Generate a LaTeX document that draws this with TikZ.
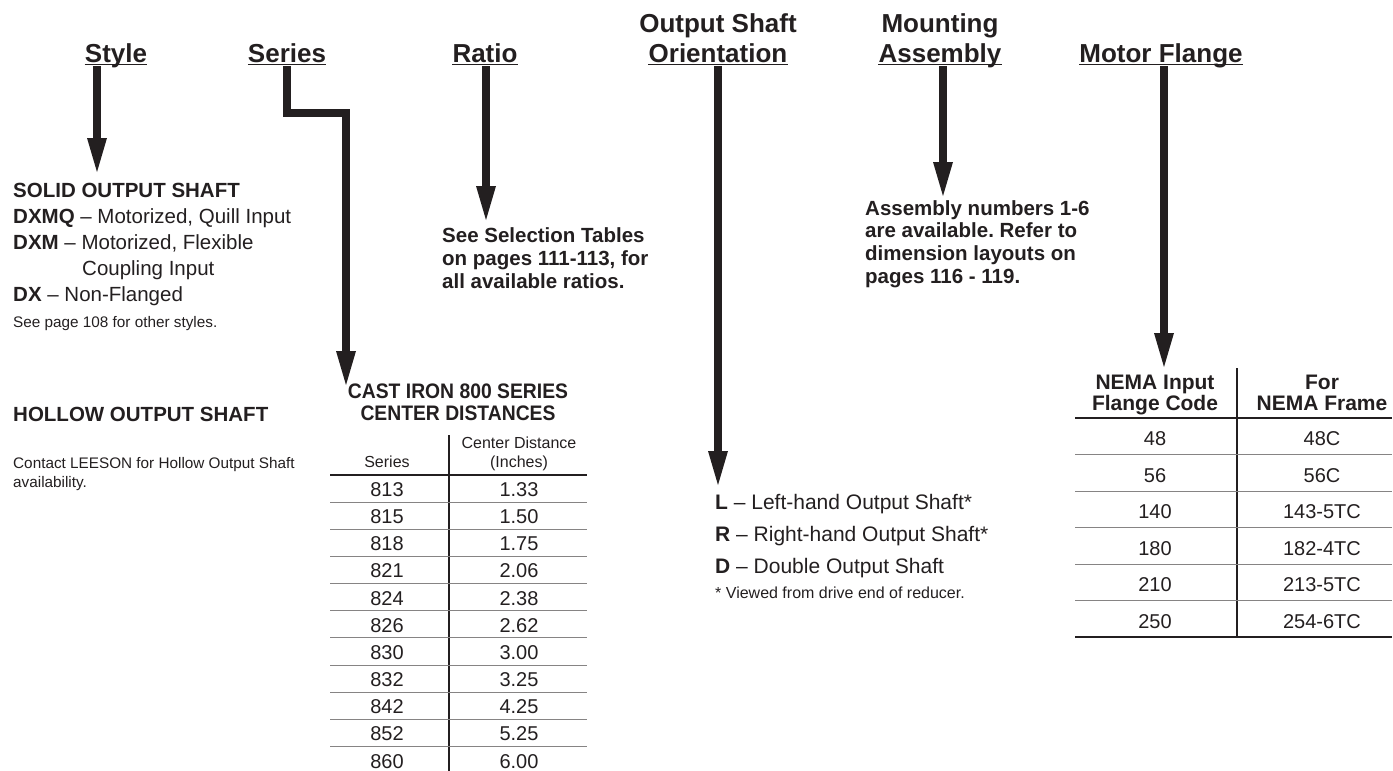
\documentclass[tikz,border=0pt]{standalone}
\usepackage{fontspec}
\setmainfont{Liberation Sans}
\newfontfamily\narrowfont[FakeStretch=0.92]{Liberation Sans}
\usetikzlibrary{arrows.meta}
\definecolor{ink}{HTML}{231F20}
\newcommand{\smallsz}{\fontsize{15.3}{19}\selectfont}
\newcommand{\notesz}{\fontsize{16}{19}\selectfont}
\frenchspacing

\begin{document}
\begin{tikzpicture}[x=1pt,y=-1pt,
	hdr/.style={font=\bfseries\fontsize{26}{30}\selectfont,text=ink,inner sep=0pt,anchor=base},
	uline/.style={draw=ink,line width=1.4pt},
	bigarrow/.style={draw=ink,line width=8pt,line join=miter,shorten <=4pt,-{Triangle[width=20pt,length=34pt,line width=0pt]}},
	bodytxt/.style={font=\fontsize{20.5}{26}\selectfont,text=ink,inner sep=0pt,anchor=base west,align=left},
	boldtxt/.style={font=\bfseries\fontsize{20.5}{22.6}\selectfont,text=ink,inner sep=0pt,anchor=base west,align=left},
	smalltxt/.style={font=\smallsz,text=ink,inner sep=0pt,anchor=base west,align=left},
	tabtitle/.style={font=\narrowfont\bfseries\fontsize{21}{22}\selectfont,text=ink,inner sep=0pt,anchor=base,align=center},
	thsmall/.style={font=\fontsize{16}{19}\selectfont,text=ink,inner sep=0pt,anchor=base,align=center},
	thbold/.style={font=\bfseries\fontsize{21}{21}\selectfont,text=ink,inner sep=0pt,anchor=base,align=center},
	cell/.style={font=\fontsize{20}{24}\selectfont,text=ink,inner sep=0pt,anchor=base},
	thickrule/.style={draw=ink,line width=2pt},
	thinrule/.style={draw=ink!55,line width=1pt},
	colrule/.style={draw=ink,line width=1.6pt}]
	\useasboundingbox (0,0) rectangle (1393,771);

	% headings
	\node[hdr] (hStyle) at (116,62) {Style};
	\node[hdr] (hSeries) at (287,62) {Series};
	\node[hdr] (hRatio) at (485,62) {Ratio};
	\node[hdr] (hOrient) at (718,62) {Orientation};
	\node[hdr] (hOutput) at ([yshift=30pt]hOrient.base) {Output Shaft};
	\node[hdr] (hAssembly) at (940,62) {Assembly};
	\node[hdr] (hMounting) at ([yshift=30pt]hAssembly.base) {Mounting};
	\node[hdr] (hMotor) at (1161,62) {Motor Flange};
	\foreach \h in {hStyle,hSeries,hRatio,hOrient,hAssembly,hMotor}
		\draw[uline] ([yshift=-2.3pt]\h.base west) -- ([yshift=-2.3pt]\h.base east);

	% notes (placed by their last line)
	\node[bodytxt] (solid) at (13,327) {\textbf{SOLID OUTPUT SHAFT}\\
		\textbf{DXMQ} -- Motorized, Quill Input\\
		\textbf{DXM} -- Motorized, Flexible\\
		\hspace*{69pt}Coupling Input\\
		\textbf{DX} -- Non-Flanged\\
		{\smallsz See page 108 for other styles.}};
	\node[boldtxt] (hollow) at (13,421) {HOLLOW OUTPUT SHAFT};
	\node[smalltxt] (contact) at (13,487) {Contact LEESON for Hollow Output Shaft\\availability.};
	\node[boldtxt] (ratioNote) at (442,288) {See Selection Tables\\on pages 111-113, for\\all available ratios.};
	\node[boldtxt] (asmNote) at (865,283) {Assembly numbers 1-6\\are available. Refer to\\dimension layouts on\\pages 116 - 119.};
	\node[bodytxt,font=\fontsize{21}{32}\selectfont] (handNote) at (715,598) {\textbf{L} -- Left-hand Output Shaft*\\
		\textbf{R} -- Right-hand Output Shaft*\\
		\textbf{D} -- Double Output Shaft\\[-7pt]
		{\notesz * Viewed from drive end of reducer.}};

	% arrows
	\coordinate (styleTip) at (97,172);
	\coordinate (seriesBend) at (346,113);
	\coordinate (seriesTip) at (346,385);
	\coordinate (ratioTip) at (486,220);
	\coordinate (orientTip) at (718,485);
	\coordinate (asmTip) at (943,196);
	\coordinate (motorTip) at (1164,367);
	\path
		(hStyle.base -| styleTip) edge[bigarrow] (styleTip)
		(hRatio.base -| ratioTip) edge[bigarrow] (ratioTip)
		(hOrient.base -| orientTip) edge[bigarrow] (orientTip)
		(hAssembly.base -| asmTip) edge[bigarrow] (asmTip)
		(hMotor.base -| motorTip) edge[bigarrow] (motorTip);
	\draw[bigarrow] (hSeries.base) |- (seriesBend) -- (seriesTip);

	% center distance table
	\node[tabtitle] (cdTitle) at (458,420) {CAST IRON 800 SERIES\\CENTER DISTANCES};
	\node[thsmall] (cdSeries) at (387,467) {Series};
	\node[thsmall] (cdDist) at (519,467) {Center Distance\\(Inches)};
	\draw[colrule] (449,435) -- (449,771);
	\draw[thickrule] (330,475) -- (587,475);
	\foreach \k in {1,...,10}
		\draw[thinrule] (330,{475+27.15*\k}) -- (587,{475+27.15*\k});
	\foreach \ser/\dist [count=\i from 0] in {813/1.33,815/1.50,818/1.75,821/2.06,824/2.38,826/2.62,830/3.00,832/3.25,842/4.25,852/5.25,860/6.00} {
		\node[cell] (cdS\i) at (387,{475+27.15*\i+21.5}) {\ser};
		\node[cell] (cdD\i) at (519,{475+27.15*\i+21.5}) {\dist};
	}

	% motor flange table
	\node[thbold] (nemaCode) at (1155,410) {NEMA Input\\Flange Code};
	\node[thbold] (nemaFrame) at (1322,410) {For\\NEMA Frame};
	\draw[colrule] (1237,368) -- (1237,637);
	\draw[thickrule] (1075,418) -- (1392,418);
	\draw[thickrule] (1075,637) -- (1392,637);
	\foreach \k in {1,...,5}
		\draw[thinrule] (1075,{418+36.5*\k}) -- (1392,{418+36.5*\k});
	\foreach \ncode/\nframe [count=\i from 0] in {48/48C,56/56C,140/143-5TC,180/182-4TC,210/213-5TC,250/254-6TC} {
		\node[cell] (nmC\i) at (1155,{418+36.5*\i+27.5}) {\ncode};
		\node[cell] (nmF\i) at (1322,{418+36.5*\i+27.5}) {\nframe};
	}
\end{tikzpicture}
\end{document}
